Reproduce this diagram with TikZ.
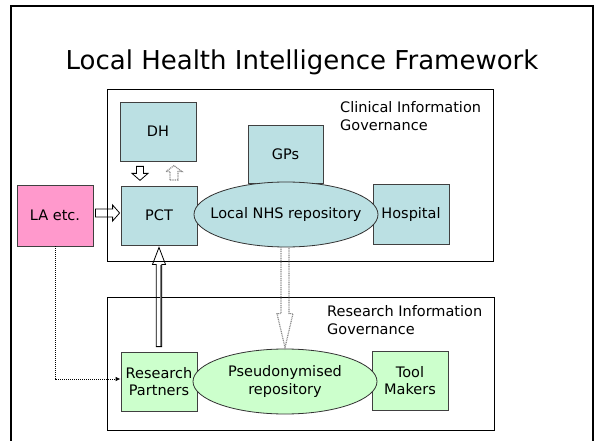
\documentclass[tikz,border=0pt]{standalone}
\usepackage{fontspec}
\setmainfont{DejaVu Sans}
\usetikzlibrary{shapes.geometric,calc,arrows.meta}
\definecolor{boxblue}{RGB}{187,224,227}
\definecolor{boxgreen}{RGB}{204,255,204}
\definecolor{boxpink}{RGB}{255,153,204}
\begin{document}
\begin{tikzpicture}[x=1pt,y=-1pt,
  txt/.style={font=\fontsize{14.5}{17.3}\selectfont},
  box/.style={txt, draw=black!75, line width=0.8pt, rectangle, inner sep=0pt, align=center, minimum width=76pt, minimum height=59pt},
  bluebox/.style={box, fill=boxblue},
  greenbox/.style={box, fill=boxgreen},
  pinkbox/.style={box, fill=boxpink},
  oval/.style={txt, draw=black!80, line width=0.8pt, ellipse, inner sep=0pt, align=center, minimum width=184pt, minimum height=65pt},
  govbox/.style={draw=black, line width=1pt, rectangle, inner sep=0pt},
  govtext/.style={txt, anchor=north west, inner sep=0pt, align=left},
  blockarrow/.style={draw=black, line width=0.8pt, line join=miter},
  greyarrow/.style={draw=black!45, line width=1.2pt, dash pattern=on 1pt off 0.8pt},
  dotconn/.style={draw=black, line width=0.9pt, dash pattern=on 1pt off 1pt, -{Latex[length=5pt,width=4.5pt]}}
]
\useasboundingbox (0,0) rectangle (595,441);
\clip (0,0) rectangle (595,441);
\draw[line width=2.5pt] (11,6) rectangle (593,470);

\node[font=\fontsize{26}{31}\selectfont, inner sep=0pt] (title) at (302,62) {Local Health Intelligence Framework};

% governance frames
\node[govbox, minimum width=386pt, minimum height=171pt] (clin) at (300,175.5) {};
\node[govbox, minimum width=387pt, minimum height=133pt] (res) at (300.5,363.5) {};
\node[govtext] (clintext) at (340,101.5) {Clinical Information\\Governance};
\node[govtext] (restext) at (327,305.5) {Research Information\\Governance};

% clinical nodes
\node[bluebox] (dh) at (158,131.5) {DH};
\node[bluebox] (pct) at (159,215.5) {PCT};
\node[bluebox, minimum width=75pt, minimum height=58pt] (gps) at (285.5,154) {GPs};
\node[bluebox, minimum height=60pt] (hosp) at (411,214) {Hospital};
\node[oval, fill=boxblue, inner xsep=-13pt] (nhs) at (286,214.5) {Local NHS repository};
\node[pinkbox, minimum height=61pt] (la) at (55,215.5) {LA etc.};

% research nodes
\node[greenbox] (rp) at (159,381.5) {Research\\Partners};
\node[greenbox] (tool) at (410,380.5) {Tool\\Makers};
\node[oval, fill=boxgreen] (pseudo) at (285,381.5) {Pseudonymised\\repository};

% DH -> PCT
\draw[blockarrow] ($(dh.south)+(-21.5,5)$) -- ($(dh.south)+(-21.5,12)$) -- ($(dh.south)+(-26,12)$) -- ($(dh.south)+(-18,19)$) -- ($(dh.south)+(-10,12)$) -- ($(dh.south)+(-14.5,12)$) -- ($(dh.south)+(-14.5,5)$) -- cycle;
% PCT -> DH
\draw[greyarrow] ($(pct.north)+(11,-5.5)$) -- ($(pct.north)+(11,-14)$) -- ($(pct.north)+(7,-14)$) -- ($(pct.north)+(15,-20)$) -- ($(pct.north)+(23,-14)$) -- ($(pct.north)+(19,-14)$) -- ($(pct.north)+(19,-5.5)$) -- cycle;
% LA -> PCT
\draw[blockarrow] ($(la.east)+(2,-6.5)$) -- ($(pct.west)+(-8,-6.5)$) -- ($(pct.west)+(-8,-10.5)$) -- ($(pct.west)+(-1,-2.5)$) -- ($(pct.west)+(-8,5.5)$) -- ($(pct.west)+(-8,1.5)$) -- ($(la.east)+(2,1.5)$) -- cycle;
% Research Partners -> PCT
\draw[black!50, line width=2pt] ($(rp.north)+(1.6,-5.5)$) -- ($(pct.south)+(1.6,19.5)$);
\draw[blockarrow] ($(rp.north)+(-2.75,-5)$) -- ($(pct.south)+(-2.75,19)$) -- ($(pct.south)+(-6.5,19)$) -- ($(pct.south)+(0,2)$) -- ($(pct.south)+(6.5,19)$) -- ($(pct.south)+(2.75,19)$) -- ($(rp.north)+(2.75,-5)$) -- cycle;
% NHS -> Pseudonymised
\draw[greyarrow] ($(nhs.south)+(-5,0)$) -- ($(pseudo.north)+(-4,-35)$) -- ($(pseudo.north)+(-8,-35)$) -- ($(pseudo.north)+(0,-1)$) -- ($(pseudo.north)+(8,-35)$) -- ($(pseudo.north)+(4,-35)$) -- ($(nhs.south)+(3,0)$);
% LA -> Research Partners
\draw[dotconn] (la.south) |- ($(rp.west)+(0,-2.5)$);
\end{tikzpicture}
\end{document}
